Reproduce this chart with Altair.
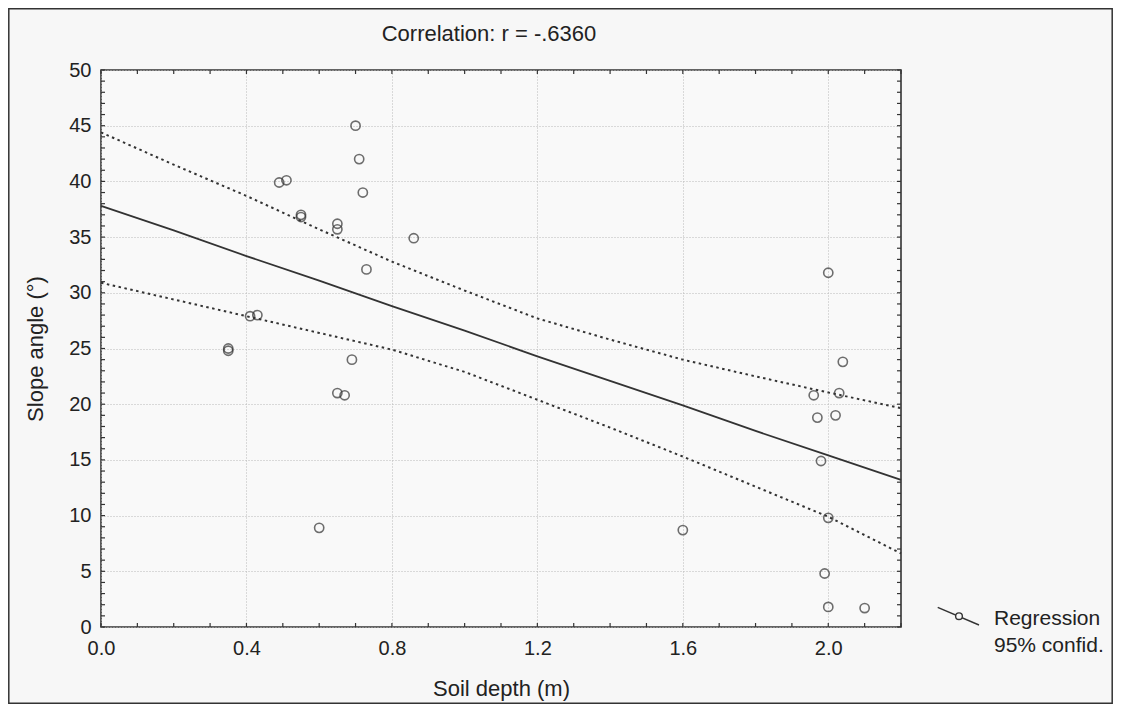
import altair as alt
import pandas as pd

# ---- data ----
soil_depth = [0.35, 0.35, 0.41, 0.43, 0.49, 0.51, 0.55, 0.55, 0.60, 0.65, 0.65,
              0.65, 0.67, 0.69, 0.70, 0.71, 0.72, 0.73, 0.86, 1.60, 1.96, 1.97,
              1.98, 1.99, 2.00, 2.00, 2.00, 2.02, 2.03, 2.04, 2.10]
slope_angle = [25.0, 24.8, 27.9, 28.0, 39.9, 40.1, 37.0, 36.8, 8.9, 36.2, 35.7,
               21.0, 20.8, 24.0, 45.0, 42.0, 39.0, 32.1, 34.9, 8.7, 20.8, 18.8,
               14.9, 4.8, 31.8, 9.8, 1.8, 19.0, 21.0, 23.8, 1.7]

fit_x = [0.0, 0.2, 0.4, 0.6, 0.8, 1.0, 1.2, 1.4, 1.6, 1.8, 2.0, 2.2]
fit_y = [37.8, 35.6, 33.3, 31.1, 28.8, 26.6, 24.3, 22.1, 19.9, 17.6, 15.4, 13.2]
upper_y = [44.4, 41.5, 38.7, 35.7, 32.8, 30.2, 27.7, 25.8, 24.0, 22.5, 21.05, 19.65]
lower_y = [30.9, 29.4, 27.9, 26.4, 24.9, 22.9, 20.4, 17.9, 15.3, 12.6, 9.9, 6.6]

x_label_values = [0.0, 0.4, 0.8, 1.2, 1.6, 2.0]
y_label_values = [0, 5, 10, 15, 20, 25, 30, 35, 40, 45, 50]
x_minor = [round(i * 0.1, 1) for i in range(23)]
y_minor = list(range(51))

title_text = "Correlation: r = -.6360"
x_title = "Soil depth (m)"
y_title = "Slope angle (°)"
legend_lines = ["Regression", "95% confid."]

W, H = 800, 557
INK = "#333333"
FONT = "Liberation Sans"

xs = alt.Scale(domain=[0, 2.2], nice=False, zero=False)
ys = alt.Scale(domain=[0, 50], nice=False, zero=False)
x_axis = alt.Axis(values=x_label_values, format=".1f", title=x_title, labelPadding=11,
                  titlePadding=20, labelFlush=False, labelOverlap=False)
y_axis = alt.Axis(values=y_label_values, format="d", title=y_title, labelPadding=10,
                  titlePadding=21, labelFlush=False, labelOverlap=False)


def X(f):
    return alt.X(f + ":Q", scale=xs, axis=x_axis)


def Y(f):
    return alt.Y(f + ":Q", scale=ys, axis=y_axis)


pts = pd.DataFrame({"x": soil_depth, "y": slope_angle})
fit = pd.DataFrame({"x": fit_x, "y": fit_y, "up": upper_y, "lo": lower_y})
xt = pd.DataFrame({"x": x_minor})
yt = pd.DataFrame({"y": y_minor})
one = pd.DataFrame({"k": [0]})

frame = alt.Chart(one).mark_rect(fill=None, stroke=INK, strokeWidth=1.5).encode(
    x=alt.value(-92.2), x2=alt.value(W + 211.2), y=alt.value(-61.2), y2=alt.value(H + 76.2)
)

points = alt.Chart(pts).mark_point(shape="circle", filled=False, size=85, strokeWidth=1.6, color=INK).encode(
    x=X("x"), y=Y("y"))

reg = alt.Chart(fit).mark_line(color=INK, strokeWidth=1.8).encode(x=X("x"), y=Y("y"))
up = alt.Chart(fit).mark_line(color=INK, strokeWidth=2.0, strokeDash=[2.5, 3.5]).encode(x=X("x"), y=Y("up"))
lo = alt.Chart(fit).mark_line(color=INK, strokeWidth=2.0, strokeDash=[2.5, 3.5]).encode(x=X("x"), y=Y("lo"))

tick_len = 4
bt = alt.Chart(xt).mark_rule(color=INK, strokeWidth=1.2).encode(
    x=X("x"), y=alt.value(H), y2=alt.value(H - tick_len))
tt = alt.Chart(xt).mark_rule(color=INK, strokeWidth=1.2).encode(
    x=X("x"), y=alt.value(0), y2=alt.value(tick_len))
lt = alt.Chart(yt).mark_rule(color=INK, strokeWidth=1.2).encode(
    y=Y("y"), x=alt.value(0), x2=alt.value(tick_len))
rt = alt.Chart(yt).mark_rule(color=INK, strokeWidth=1.2).encode(
    y=Y("y"), x=alt.value(W), x2=alt.value(W - tick_len))

title = alt.Chart(one).mark_text(font=FONT, fontSize=22, color="#222", baseline="alphabetic").encode(
    x=alt.value(388), y=alt.value(-29.5), text=alt.value(title_text))

leg_line = alt.Chart(one).mark_rule(color=INK, strokeWidth=1.4).encode(
    x=alt.value(836.7), x2=alt.value(878), y=alt.value(537.3), y2=alt.value(555))
leg_pt = alt.Chart(one).mark_point(shape="circle", filled=True, fill="#f7f7f7", stroke=INK,
                                   strokeWidth=1.4, size=45, opacity=1).encode(
    x=alt.value(858), y=alt.value(546.2))
leg_t1 = alt.Chart(one).mark_text(font=FONT, fontSize=21, color="#222", align="left", baseline="alphabetic").encode(
    x=alt.value(893), y=alt.value(555), text=alt.value(legend_lines[0]))
leg_t2 = alt.Chart(one).mark_text(font=FONT, fontSize=21, color="#222", align="left", baseline="alphabetic").encode(
    x=alt.value(893), y=alt.value(582), text=alt.value(legend_lines[1]))

chart = alt.layer(
    frame, points, reg, up, lo, bt, tt, lt, rt, title, leg_line, leg_pt, leg_t1, leg_t2
).properties(
    width=W, height=H,
    autosize=alt.AutoSizeParams(type="none"),
    padding={"left": 93, "top": 62, "right": 212, "bottom": 77},
    background="#f7f7f7",
).configure_view(
    stroke=INK, strokeWidth=1.6, fill="#f9f9f9"
).configure_axis(
    labelFont=FONT, titleFont=FONT, labelFontSize=20, titleFontSize=22,
    titleFontWeight="normal", labelColor="#222", titleColor="#222",
    ticks=False, domain=False, grid=True, gridColor="#b8b8b8", gridDash=[1, 2], gridWidth=1,
)

chart.save("out.html", embed_options={"renderer": "svg", "actions": False})
